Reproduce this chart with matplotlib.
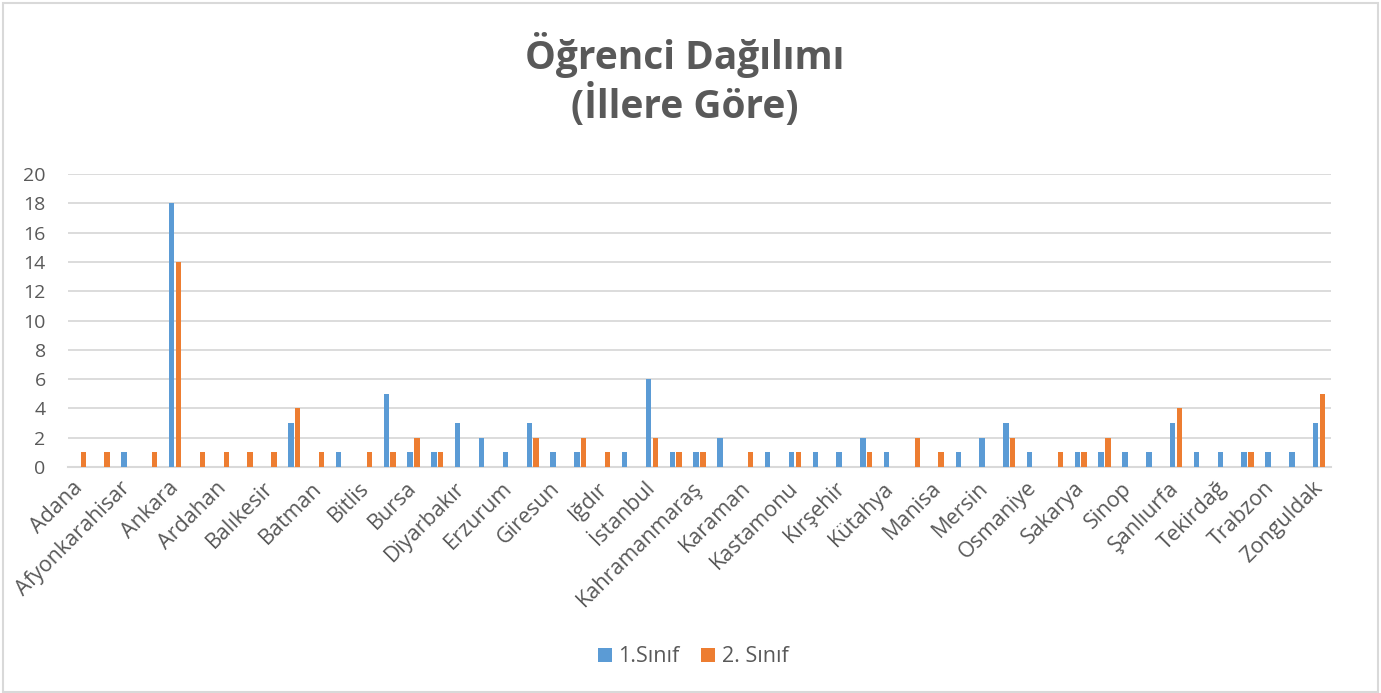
import matplotlib
matplotlib.use("Agg")
import matplotlib.pyplot as plt
from matplotlib.patches import Rectangle
import numpy as np

plt.rcParams['font.family'] = ['Open Sans', 'DejaVu Sans']

provinces = ["Adana", "Adıyaman", "Afyonkarahisar", "Ağrı", "Ankara", "Antalya", "Ardahan", "Aydın",
             "Balıkesir", "Bartın", "Batman", "Bingöl", "Bitlis", "Bolu", "Bursa", "Denizli",
             "Diyarbakır", "Elazığ", "Erzurum", "Gaziantep", "Giresun", "Hatay", "Iğdır", "Isparta",
             "İstanbul", "İzmir", "Kahramanmaraş", "Karabük", "Karaman", "Kars", "Kastamonu", "Kayseri",
             "Kırşehir", "Konya", "Kütahya", "Malatya", "Manisa", "Mardin", "Mersin", "Ordu",
             "Osmaniye", "Rize", "Sakarya", "Samsun", "Sinop", "Sivas", "Şanlıurfa", "Şırnak",
             "Tekirdağ", "Tokat", "Trabzon", "Van", "Zonguldak"]

sinif1 = [0, 0, 1, 0, 18, 0, 0, 0,
          0, 3, 0, 1, 0, 5, 1, 1,
          3, 2, 1, 3, 1, 1, 0, 1,
          6, 1, 1, 2, 0, 1, 1, 1,
          1, 2, 1, 0, 0, 1, 2, 3,
          1, 0, 1, 1, 1, 1, 3, 1,
          1, 1, 1, 1, 3]

sinif2 = [1, 1, 0, 1, 14, 1, 1, 1,
          1, 4, 1, 0, 1, 1, 2, 1,
          0, 0, 0, 2, 0, 2, 1, 0,
          2, 1, 1, 0, 1, 0, 1, 0,
          0, 1, 0, 2, 1, 0, 0, 2,
          0, 1, 1, 2, 0, 0, 4, 0,
          0, 1, 0, 0, 5]

series_names = ["1.Sınıf", "2. Sınıf"]
title_lines = ["Öğrenci Dağılımı", "(İllere Göre)"]

BLUE = "#5B9BD5"
ORANGE = "#ED7D31"
TXT = "#595959"
GRID = "#D9D9D9"

fig = plt.figure(figsize=(13.81, 6.93), dpi=100)
fig.patches.append(Rectangle((0.002, 0.002), 0.996, 0.994, transform=fig.transFigure,
                             fill=False, edgecolor=GRID, linewidth=1.5))

ax = fig.add_axes([0.0492, 0.3261, 0.9146, 0.4228])
x = np.arange(len(provinces))
w = 0.227
off = 0.143
ax.bar(x - off, sinif1, width=w, color=BLUE, label=series_names[0], zorder=3)
ax.bar(x + off, sinif2, width=w, color=ORANGE, label=series_names[1], zorder=3)

ax.set_xlim(-0.5, len(provinces) - 0.5)
ax.set_ylim(0, 20)
ax.set_yticks(range(0, 21, 2))
ax.yaxis.grid(True, color=GRID, linewidth=1.3, zorder=0)
ax.set_axisbelow(True)
for s in ["top", "right", "left"]:
    ax.spines[s].set_visible(False)
ax.spines["bottom"].set_color(GRID)
ax.spines["bottom"].set_linewidth(1.5)
ax.tick_params(axis='both', length=0, colors=TXT, labelsize=14)
ax.tick_params(axis='y', pad=16)

shown = x[::2]
ax.set_xticks(shown)
ax.set_xticklabels([provinces[i] for i in shown], rotation=45, ha='right', va='center',
                   rotation_mode='anchor', fontsize=15.5, color=TXT)
ax.tick_params(axis='x', pad=13)

fig.text(0.496, 1 - 69 / 693, title_lines[0], ha='center', va='baseline',
         fontsize=28, fontweight='bold', color=TXT)
fig.text(0.496, 1 - 118 / 693, title_lines[1], ha='center', va='baseline',
         fontsize=28, fontweight='bold', color=TXT)

leg = fig.legend(loc='center', bbox_to_anchor=(0.502, 1 - 657 / 693), ncol=2, frameon=False,
                 fontsize=15.5, handlelength=0.65, handleheight=0.65, handletextpad=0.3,
                 columnspacing=1.0)
for t in leg.get_texts():
    t.set_color(TXT)

fig.savefig("out.png", dpi=100)
